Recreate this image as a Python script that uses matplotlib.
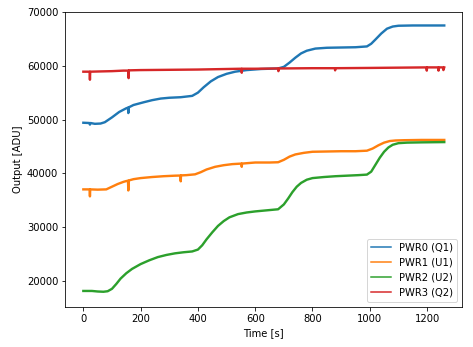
import matplotlib
matplotlib.use("Agg")
import matplotlib.pyplot as plt

# PWR0 (Q1)
t0 = [0, 21, 23, 25, 40, 60, 75, 100, 125, 150, 156, 157, 158, 175, 210, 240, 270, 300, 340, 380, 400,
      420, 445, 470, 500, 530, 570, 620, 680, 700, 720, 740, 760, 780, 810, 850, 900, 950, 990,
      1005, 1020, 1040, 1060, 1080, 1100, 1150, 1200, 1260]
v0 = [49400, 49350, 49050, 49350, 49200, 49250, 49500, 50400, 51400, 52100, 52200, 51200, 52250, 52700,
      53200, 53600, 53900, 54050, 54150, 54400, 55000, 56000, 57100, 57900, 58500, 58900, 59200,
      59400, 59500, 59800, 60600, 61500, 62300, 62800, 63200, 63350, 63400, 63450, 63600,
      64100, 64900, 66000, 66900, 67300, 67450, 67500, 67500, 67500]

# PWR1 (U1)
t1 = [0, 22, 23, 24, 50, 80, 100, 120, 140, 150, 156, 157, 158, 175, 200, 240, 280, 320, 339, 340, 341,
      360, 390, 410, 430, 460, 490, 520, 552, 553, 554, 600, 650, 680, 700, 720, 740, 770, 800,
      850, 900, 950, 990, 1010, 1030, 1050, 1070, 1090, 1120, 1180, 1260]
v1 = [37000, 37000, 35700, 37000, 36950, 37000, 37500, 38000, 38400, 38550, 38600, 36800, 38650, 38900,
      39100, 39300, 39450, 39550, 39580, 38500, 39600, 39650, 39800, 40200, 40700, 41200, 41500,
      41700, 41800, 41200, 41800, 42000, 42000, 42050, 42500, 43100, 43500, 43800, 44000, 44050,
      44100, 44100, 44200, 44600, 45200, 45700, 46000, 46100, 46150, 46200, 46200]

# PWR2 (U2)
t2 = [0, 30, 50, 70, 85, 100, 115, 130, 150, 170, 200, 230, 260, 290, 320, 350, 380, 400, 415, 430,
      450, 470, 490, 510, 540, 570, 600, 640, 680, 700, 715, 730, 745, 760, 780, 800, 840, 880,
      920, 960, 990, 1005, 1020, 1035, 1050, 1065, 1080, 1100, 1130, 1180, 1260]
v2 = [18100, 18100, 18000, 17950, 18050, 18500, 19400, 20400, 21400, 22200, 23100, 23800, 24400,
      24800, 25100, 25300, 25450, 25800, 26600, 27700, 29000, 30200, 31100, 31800, 32400, 32700,
      32900, 33100, 33300, 34200, 35300, 36500, 37500, 38200, 38800, 39100, 39300, 39450, 39550,
      39650, 39750, 40300, 41600, 42900, 44000, 44800, 45300, 45600, 45700, 45750, 45800]

# PWR3 (Q2)
t3 = [0, 22, 23, 24, 60, 100, 140, 157, 158, 159, 200, 300, 400, 500, 552, 553, 554, 600, 680, 681, 682,
      800, 878, 879, 880, 1000, 1100, 1198, 1199, 1200, 1239, 1240, 1241, 1256, 1257, 1260]
v3 = [58900, 58900, 57400, 58900, 58950, 59000, 59100, 59100, 57700, 59150, 59200, 59250, 59300,
      59400, 59450, 58700, 59450, 59450, 59500, 59000, 59500, 59550, 59550, 59150, 59550, 59600,
      59650, 59700, 59100, 59700, 59700, 59100, 59700, 59700, 59200, 59700]

labels = ["PWR0 (Q1)", "PWR1 (U1)", "PWR2 (U2)", "PWR3 (Q2)"]
colors = ["#1f77b4", "#ff7f0e", "#2ca02c", "#d62728"]

fig = plt.figure(figsize=(473 / 72, 347 / 72), dpi=72)
ax = fig.add_axes([65.3 / 473, 40.3 / 347, (462.3 - 65.3) / 473, (306.7 - 11.5) / 347])

for t, v, lab, c in zip([t0, t1, t2, t3], [v0, v1, v2, v3], labels, colors):
    ax.plot(t, v, color=c, lw=2.4, label=lab)

ax.set_xlabel("Time [s]", fontsize=10)
ax.set_ylabel("Output [ADU]", fontsize=10)
ax.tick_params(labelsize=10)
ax.set_xticks([0, 200, 400, 600, 800, 1000, 1200])
ax.set_yticks([20000, 30000, 40000, 50000, 60000, 70000])
ax.set_ylim(15170, 70100)
ax.set_xlim(-63, 1323)
leg = ax.legend(loc="lower right", fontsize=10)
for ln in leg.get_lines():
    ln.set_linewidth(1.5)

fig.savefig("out.png", dpi=72)
